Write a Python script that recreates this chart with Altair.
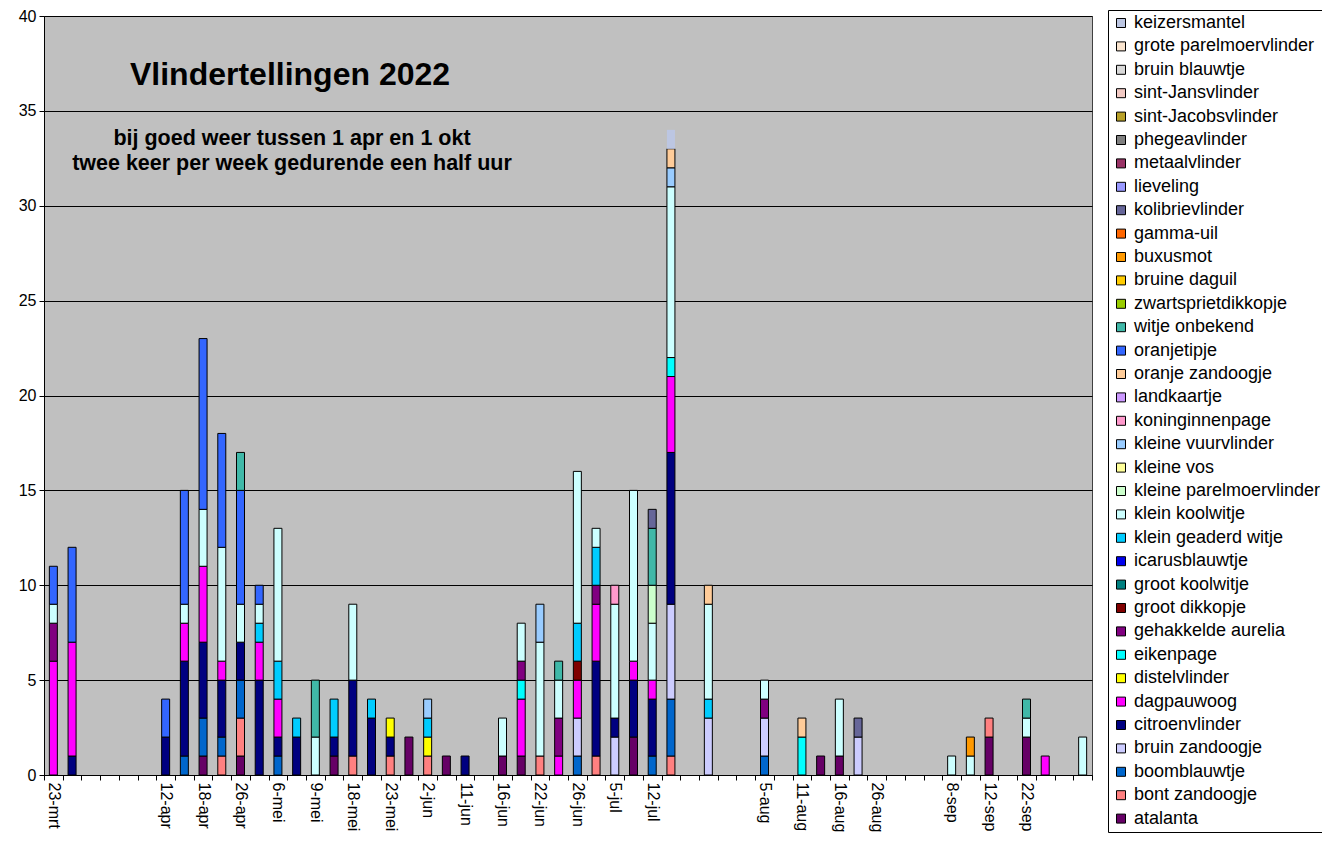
import json
import altair as alt
import pandas as pd

# x-axis category labels (one per count session, only every second labelled)
dates = ["23-mrt", "", "", "", "", "", "12-apr", "", "18-apr", "", "26-apr", "",
         "6-mei", "", "9-mei", "", "18-mei", "", "23-mei", "", "2-jun", "", "11-jun", "",
         "16-jun", "", "22-jun", "", "26-jun", "", "5-jul", "", "12-jul", "", "", "",
         "", "", "5-aug", "", "11-aug", "", "16-aug", "", "26-aug", "", "", "",
         "8-sep", "", "12-sep", "", "22-sep", "", "", ""]

# species in legend order (top to bottom)
species = ["keizersmantel", "grote parelmoervlinder", "bruin blauwtje", "sint-Jansvlinder",
           "sint-Jacobsvlinder", "phegeavlinder", "metaalvlinder", "lieveling",
           "kolibrievlinder", "gamma-uil", "buxusmot", "bruine daguil",
           "zwartsprietdikkopje", "witje onbekend", "oranjetipje", "oranje zandoogje",
           "landkaartje", "koninginnenpage", "kleine vuurvlinder", "kleine vos",
           "kleine parelmoervlinder", "klein koolwitje", "klein geaderd witje",
           "icarusblauwtje", "groot koolwitje", "groot dikkopje", "gehakkelde aurelia",
           "eikenpage", "distelvlinder", "dagpauwoog", "citroenvlinder", "bruin zandoogje",
           "boomblauwtje", "bont zandoogje", "atalanta"]

colors = ["#BCC6E2", "#FBE5CF", "#D9D9D9", "#F2CAC4", "#B8A028", "#7F7F7F", "#993366",
          "#9999FF", "#666699", "#FF6600", "#FF9900", "#FFCC00", "#99CC00", "#40B8A8",
          "#3366FF", "#FFCC99", "#CC99FF", "#FF99CC", "#99CCFF", "#FFFF99", "#CCFFCC",
          "#CCFFFF", "#00CCFF", "#0000EE", "#008080", "#800000", "#800080", "#00FFFF",
          "#FFFF00", "#FF00FF", "#000080", "#CCCCFF", "#0066CC", "#FF8080", "#660066"]

no_border = ["keizersmantel", "grote parelmoervlinder", "bruin blauwtje",
             "sint-Jansvlinder", "sint-Jacobsvlinder", "phegeavlinder"]

# counts per session index: (species, number)
counts = {
    0: [("dagpauwoog", 6), ("gehakkelde aurelia", 2), ("klein koolwitje", 1), ("oranjetipje", 2)],
    1: [("citroenvlinder", 1), ("dagpauwoog", 6), ("oranjetipje", 5)],
    6: [("citroenvlinder", 2), ("oranjetipje", 2)],
    7: [("boomblauwtje", 1), ("citroenvlinder", 5), ("dagpauwoog", 2), ("klein koolwitje", 1), ("oranjetipje", 6)],
    8: [("atalanta", 1), ("boomblauwtje", 2), ("citroenvlinder", 4), ("dagpauwoog", 4), ("klein koolwitje", 3), ("oranjetipje", 9)],
    9: [("bont zandoogje", 1), ("boomblauwtje", 1), ("citroenvlinder", 3), ("dagpauwoog", 1), ("klein koolwitje", 6), ("oranjetipje", 6)],
    10: [("atalanta", 1), ("bont zandoogje", 2), ("boomblauwtje", 2), ("citroenvlinder", 2), ("klein koolwitje", 2), ("oranjetipje", 6), ("witje onbekend", 2)],
    11: [("citroenvlinder", 5), ("dagpauwoog", 2), ("klein geaderd witje", 1), ("klein koolwitje", 1), ("oranjetipje", 1)],
    12: [("boomblauwtje", 1), ("citroenvlinder", 1), ("dagpauwoog", 2), ("klein geaderd witje", 2), ("klein koolwitje", 7)],
    13: [("citroenvlinder", 2), ("klein geaderd witje", 1)],
    14: [("klein koolwitje", 2), ("witje onbekend", 3)],
    15: [("atalanta", 1), ("citroenvlinder", 1), ("klein geaderd witje", 2)],
    16: [("bont zandoogje", 1), ("citroenvlinder", 4), ("klein koolwitje", 4)],
    17: [("citroenvlinder", 3), ("klein geaderd witje", 1)],
    18: [("bont zandoogje", 1), ("citroenvlinder", 1), ("distelvlinder", 1)],
    19: [("atalanta", 2)],
    20: [("bont zandoogje", 1), ("distelvlinder", 1), ("klein geaderd witje", 1), ("kleine vuurvlinder", 1)],
    21: [("atalanta", 1)],
    22: [("citroenvlinder", 1)],
    24: [("atalanta", 1), ("klein koolwitje", 2)],
    25: [("atalanta", 1), ("dagpauwoog", 3), ("eikenpage", 1), ("gehakkelde aurelia", 1), ("klein koolwitje", 2)],
    26: [("bont zandoogje", 1), ("klein koolwitje", 6), ("kleine vuurvlinder", 2)],
    27: [("dagpauwoog", 1), ("gehakkelde aurelia", 2), ("klein koolwitje", 2), ("witje onbekend", 1)],
    28: [("boomblauwtje", 1), ("bruin zandoogje", 2), ("dagpauwoog", 2), ("groot dikkopje", 1), ("klein geaderd witje", 2), ("klein koolwitje", 8)],
    29: [("bont zandoogje", 1), ("citroenvlinder", 5), ("dagpauwoog", 3), ("gehakkelde aurelia", 1), ("klein geaderd witje", 2), ("klein koolwitje", 1)],
    30: [("bruin zandoogje", 2), ("citroenvlinder", 1), ("klein koolwitje", 6), ("koninginnenpage", 1)],
    31: [("atalanta", 2), ("citroenvlinder", 3), ("dagpauwoog", 1), ("klein koolwitje", 9)],
    32: [("boomblauwtje", 1), ("citroenvlinder", 3), ("dagpauwoog", 1), ("klein koolwitje", 3), ("kleine parelmoervlinder", 2), ("witje onbekend", 3), ("kolibrievlinder", 1)],
    33: [("bont zandoogje", 1), ("boomblauwtje", 3), ("bruin zandoogje", 5), ("citroenvlinder", 8), ("dagpauwoog", 4), ("eikenpage", 1), ("klein koolwitje", 9), ("kleine vuurvlinder", 1), ("oranje zandoogje", 1), ("keizersmantel", 1)],
    35: [("bruin zandoogje", 3), ("klein geaderd witje", 1), ("klein koolwitje", 5), ("oranje zandoogje", 1)],
    38: [("boomblauwtje", 1), ("bruin zandoogje", 2), ("gehakkelde aurelia", 1), ("klein koolwitje", 1)],
    40: [("eikenpage", 2), ("oranje zandoogje", 1)],
    41: [("atalanta", 1)],
    42: [("atalanta", 1), ("klein koolwitje", 3)],
    43: [("bruin zandoogje", 2), ("kolibrievlinder", 1)],
    48: [("klein koolwitje", 1)],
    49: [("klein koolwitje", 1), ("buxusmot", 1)],
    50: [("atalanta", 2), ("bont zandoogje", 1)],
    52: [("atalanta", 2), ("klein koolwitje", 1), ("witje onbekend", 1)],
    53: [("dagpauwoog", 1)],
    55: [("klein koolwitje", 2)],
}

title_text = "Vlindertellingen 2022"
sub1 = "bij goed weer tussen 1 apr en 1 okt"
sub2 = "twee keer per week gedurende een half uur"

rows = []
for idx, items in counts.items():
    for sp, n in items:
        rows.append({"idx": idx, "soort": sp, "aantal": n,
                     "volg": len(species) - 1 - species.index(sp)})
df = pd.DataFrame(rows)

FONT = "Liberation Sans"
label_expr = json.dumps(dates) + "[datum.value]"

bars = alt.Chart(df).mark_bar(width=8, strokeWidth=1).encode(
    x=alt.X("idx:O",
            scale=alt.Scale(domain=list(range(len(dates))), paddingInner=0, paddingOuter=0),
            axis=alt.Axis(title=None, labelExpr=label_expr, labelAngle=90, labelAlign="left",
                          labelBaseline="middle", labelPadding=2, labelFontSize=16,
                          labelOverlap=False, tickBand="extent", tickSize=5, grid=False)),
    y=alt.Y("aantal:Q", stack="zero",
            scale=alt.Scale(domain=[0, 40], nice=False),
            axis=alt.Axis(title=None, values=list(range(0, 41, 5)), grid=True,
                          tickSize=5, labelPadding=3, labelFontSize=16)),
    color=alt.Color("soort:N", scale=alt.Scale(domain=species, range=colors),
                    legend=alt.Legend(title=None, orient="none", legendX=1064, legendY=-6,
                                      direction="vertical", symbolType="square",
                                      symbolSize=81, symbolStrokeColor="black",
                                      symbolStrokeWidth=1, symbolOpacity=1,
                                      labelFontSize=18, labelFont=FONT, labelLimit=300,
                                      labelColor="black", rowPadding=5.4, labelOffset=4,
                                      padding=4, strokeColor="black", fillColor="white",
                                      symbolLimit=60)),
    order=alt.Order("volg:Q", sort="ascending"),
    stroke=alt.condition(alt.FieldOneOfPredicate(field="soort", oneOf=no_border),
                         alt.value("transparent"), alt.value("black")),
)

one = pd.DataFrame({"a": [0]})
t1 = alt.Chart(one).mark_text(text=title_text, font=FONT, fontSize=32, fontWeight="bold",
                              align="center", baseline="alphabetic", color="black").encode(
    x=alt.value(246), y=alt.value(69))
t2 = alt.Chart(one).mark_text(text=sub1, font=FONT, fontSize=21.5, fontWeight="bold",
                              align="center", baseline="alphabetic", color="black").encode(
    x=alt.value(248), y=alt.value(129))
t3 = alt.Chart(one).mark_text(text=sub2, font=FONT, fontSize=21.5, fontWeight="bold",
                              align="center", baseline="alphabetic", color="black").encode(
    x=alt.value(248), y=alt.value(154))

chart = alt.layer(bars, t1, t2, t3).properties(
    width=1048, height=759,
    autosize=alt.AutoSizeParams(type="none"),
    padding={"left": 36, "top": 8, "right": 230, "bottom": 58},
).configure_view(
    fill="#C0C0C0", stroke="#404040", strokeWidth=1
).configure_axis(
    domainColor="black", tickColor="black", gridColor="black", gridWidth=1,
    labelColor="black", labelFont=FONT, domainWidth=1, tickWidth=1
)

chart.save("out.html", embed_options={"renderer": "svg", "actions": False})
